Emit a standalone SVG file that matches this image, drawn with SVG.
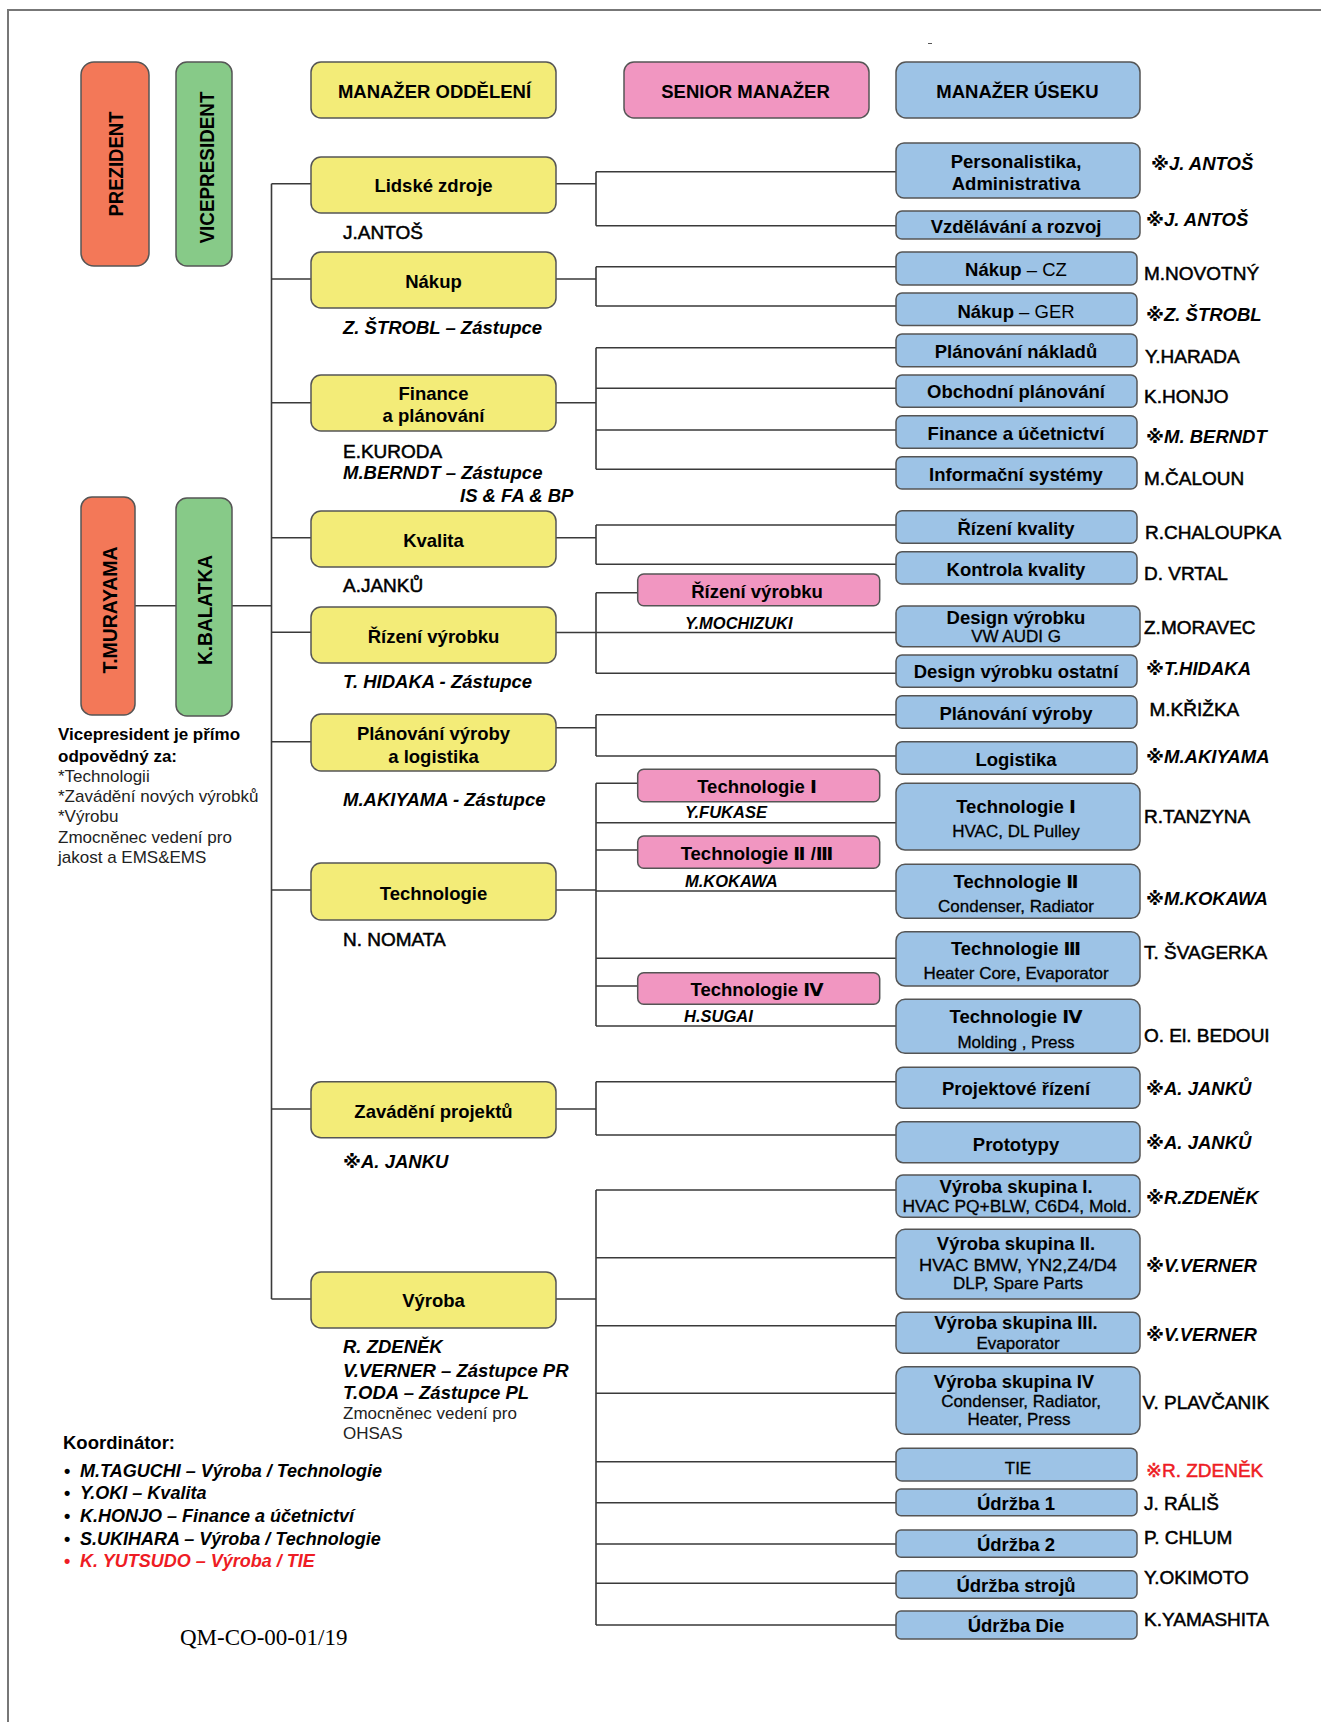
<svg xmlns="http://www.w3.org/2000/svg" width="1321" height="1722" viewBox="0 0 1321 1722">
<style>
.bx{stroke:#555;stroke-width:1.5}
.yl{fill:#F3EC78}
.bl{fill:#9DC3E6}
.pk{fill:#F196C1}
.or{fill:#F37858}
.gr{fill:#87CA88}
.ln{stroke:#3a3a3a;stroke-width:1.6;fill:none}
text{font-family:"Liberation Sans",Arial,"DejaVu Sans","Noto Sans CJK JP",sans-serif;fill:#000}
.lb{font-size:18.5px;font-weight:bold;text-anchor:middle}
.sb{font-size:17px;text-anchor:middle;stroke:#000;stroke-width:0.3}
.nm{font-size:19px;stroke:#000;stroke-width:0.5}
.bi{font-size:18.5px;font-weight:bold;font-style:italic}
.pn{font-size:16.5px;font-weight:bold;font-style:italic}
.rg{font-size:17px;fill:#222}
.vt{font-size:21px;font-weight:bold;text-anchor:middle}
.red{fill:#EE1C24;stroke:#EE1C24}
</style>
<path d="M8,1722 V10 H1321" fill="none" stroke="#777" stroke-width="2"/>
<line x1="928" y1="43.5" x2="932" y2="43.5" stroke="#555" stroke-width="1"/>

<g id="connectors" class="ln">
<path d="M271.5,183.7 V1299"/>
<path d="M135,605.7 H176 M232,605.7 H271.5"/>
<path d="M271.5,183.7 H311 M271.5,279 H311 M271.5,402.7 H311 M271.5,537.7 H311 M271.5,632.3 H311 M271.5,741.7 H311 M271.5,890 H311 M271.5,1109 H311 M271.5,1299 H311"/>
<path d="M556,183.7 H596 M596,171.7 V225.7 M596,171.7 H896 M596,225.7 H896"/>
<path d="M556,279 H596 M596,266.7 V306 M596,266.7 H896 M596,306 H896"/>
<path d="M556,402.7 H596 M596,347.7 V469.3 M596,347.7 H896 M596,388.3 H896 M596,430 H896 M596,469.3 H896"/>
<path d="M556,537.7 H596 M596,525 V564.3 M596,525 H896 M596,564.3 H896"/>
<path d="M556,632.5 H896 M596,592.7 V673.3 M596,592.7 H637.7 M596,673.3 H896"/>
<path d="M556,727.7 H596 M596,714.7 V756 M596,714.7 H896 M596,756 H896"/>
<path d="M556,890 H596 M596,783.3 V1026 M596,783.3 H637.7 M596,822.7 H896 M596,850 H637.7 M596,891 H896 M596,958.3 H896 M596,986 H637.7 M596,1026 H896"/>
<path d="M556,1109 H596 M596,1081.7 V1135 M596,1081.7 H896 M596,1135 H896"/>
<path d="M556,1299 H596 M596,1190 V1625 M596,1190 H896 M596,1257.7 H896 M596,1325.7 H896 M596,1393.3 H896 M596,1461.7 H896 M596,1502.7 H896 M596,1544 H896 M596,1583.3 H896 M596,1625 H896"/>
</g>

<g id="prezident"><rect class="bx or" x="81" y="62" width="68" height="204" rx="13"/><text class="vt" transform="translate(115.7,164) rotate(-90)" y="7.5" textLength="105" lengthAdjust="spacingAndGlyphs">PREZIDENT</text></g>
<g id="vicepresident"><rect class="bx gr" x="176" y="62" width="56" height="204" rx="11"/><text class="vt" transform="translate(206,167.5) rotate(-90)" y="7.5" textLength="152" lengthAdjust="spacingAndGlyphs">VICEPRESIDENT</text></g>
<g id="h-manazer-oddeleni"><rect class="bx yl" x="311" y="62" width="245" height="56" rx="10"/><text class="lb" x="434.5" y="97.5">MANAŽER ODDĚLENÍ</text></g>
<g id="h-senior-manazer"><rect class="bx pk" x="624" y="62" width="245" height="56" rx="10"/><text class="lb" x="745.5" y="97.5">SENIOR MANAŽER</text></g>
<g id="h-manazer-useku"><rect class="bx bl" x="896" y="62" width="244" height="56" rx="10"/><text class="lb" x="1017.5" y="97.5">MANAŽER ÚSEKU</text></g>

<g id="murayama"><rect class="bx or" x="81" y="497" width="54" height="218" rx="11"/><text class="vt" transform="translate(109.5,610) rotate(-90)" y="7.5" textLength="127" lengthAdjust="spacingAndGlyphs">T.MURAYAMA</text></g>
<g id="balatka"><rect class="bx gr" x="176" y="498" width="56" height="218" rx="11"/><text class="vt" transform="translate(204,610) rotate(-90)" y="7.5" textLength="110" lengthAdjust="spacingAndGlyphs">K.BALATKA</text></g>

<g id="vp-note">
<text x="58" y="740.3" font-size="17" font-weight="bold">Vicepresident je přímo</text>
<text x="58" y="762" font-size="17" font-weight="bold">odpovědný za:</text>
<text class="rg" x="58" y="782">*Technologii</text>
<text class="rg" x="58" y="802">*Zavádění nových výrobků</text>
<text class="rg" x="58" y="822">*Výrobu</text>
<text class="rg" x="58" y="842.7">Zmocněnec vedení pro</text>
<text class="rg" x="58" y="862.7">jakost a EMS&amp;EMS</text>
</g>

<g id="d-lidske-zdroje"><rect class="bx yl" x="311" y="157" width="245" height="56" rx="10"/><text class="lb" x="433.5" y="191.5">Lidské zdroje</text><text class="nm" x="343" y="238.5">J.ANTOŠ</text></g>
<g id="d-nakup"><rect class="bx yl" x="311" y="252" width="245" height="56" rx="10"/><text class="lb" x="433.5" y="287.5">Nákup</text><text class="bi" x="343" y="334.2">Z. ŠTROBL – Zástupce</text></g>
<g id="d-finance"><rect class="bx yl" x="311" y="375" width="245" height="56" rx="10"/><text class="lb" x="433.5" y="399.8">Finance</text><text class="lb" x="433.5" y="421.5">a plánování</text><text class="nm" x="343" y="457.8">E.KURODA</text><text class="bi" x="343" y="479.2">M.BERNDT – Zástupce</text><text class="bi" x="460" y="501.5">IS &amp; FA &amp; BP</text></g>
<g id="d-kvalita"><rect class="bx yl" x="311" y="511" width="245" height="56" rx="10"/><text class="lb" x="433.5" y="546.5">Kvalita</text><text class="nm" x="343" y="591.8">A.JANKŮ</text></g>
<g id="d-rizeni-vyrobku"><rect class="bx yl" x="311" y="607" width="245" height="56" rx="10"/><text class="lb" x="433.5" y="642.5">Řízení výrobku</text><text class="bi" x="343" y="688.2">T. HIDAKA - Zástupce</text></g>
<g id="d-planovani"><rect class="bx yl" x="311" y="714" width="245" height="57" rx="10"/><text class="lb" x="433.5" y="739.8">Plánování výroby</text><text class="lb" x="433.5" y="762.5">a logistika</text><text class="bi" x="343" y="805.5">M.AKIYAMA - Zástupce</text></g>
<g id="d-technologie"><rect class="bx yl" x="311" y="863" width="245" height="57" rx="10"/><text class="lb" x="433.5" y="899.8">Technologie</text><text class="nm" x="343" y="946">N. NOMATA</text></g>
<g id="d-zavadeni"><rect class="bx yl" x="311" y="1081.7" width="245" height="56" rx="10"/><text class="lb" x="433.5" y="1117.5">Zavádění projektů</text><text class="bi" x="343" y="1167.5">※A. JANKU</text></g>
<g id="d-vyroba"><rect class="bx yl" x="311" y="1272" width="245" height="56" rx="10"/><text class="lb" x="433.5" y="1307.2">Výroba</text>
<text class="bi" x="343" y="1353.2">R. ZDENĚK</text><text class="bi" x="343" y="1377.2">V.VERNER – Zástupce PR</text><text class="bi" x="343" y="1398.8">T.ODA – Zástupce PL</text><text class="rg" x="343" y="1419.3">Zmocněnec vedení pro</text><text class="rg" x="343" y="1438.7">OHSAS</text></g>

<g id="s-rizeni-vyrobku"><rect class="bx pk" x="637.7" y="574" width="242" height="31.7" rx="6"/><text class="lb" x="757" y="597.5">Řízení výrobku</text><text class="pn" x="685" y="629.1">Y.MOCHIZUKI</text></g>
<g id="s-tech1"><rect class="bx pk" x="637.7" y="769.3" width="242" height="32.4" rx="6"/><text class="lb" x="757" y="793.2">Technologie  Ⅰ</text><text class="pn" x="685" y="817.5">Y.FUKASE</text></g>
<g id="s-tech23"><rect class="bx pk" x="637.7" y="836" width="242" height="32.3" rx="6"/><text class="lb" x="757" y="859.8">Technologie Ⅱ /Ⅲ</text><text class="pn" x="685" y="886.8">M.KOKAWA</text></g>
<g id="s-tech4"><rect class="bx pk" x="637.7" y="972.7" width="242" height="31.6" rx="6"/><text class="lb" x="757" y="995.8">Technologie Ⅳ</text><text class="pn" x="684" y="1021.8">H.SUGAI</text></g>

<g id="u-personalistika"><rect class="bx bl" x="896" y="143" width="244" height="55" rx="8"/><text class="lb" x="1016" y="167.5">Personalistika,</text><text class="lb" x="1016" y="189.8">Administrativa</text><text class="bi" x="1151" y="169.5">※J. ANTOŠ</text></g>
<g id="u-vzdelavani"><rect class="bx bl" x="896" y="211" width="244" height="28" rx="6"/><text class="lb" x="1016" y="232.5">Vzdělávání a rozvoj</text><text class="bi" x="1146" y="225.5">※J. ANTOŠ</text></g>
<g id="u-nakup-cz"><rect class="bx bl" x="896" y="252" width="241" height="33" rx="6"/><text class="lb" x="1016" y="275.8">Nákup <tspan font-weight="normal">– CZ</tspan></text><text class="nm" x="1144" y="279.5">M.NOVOTNÝ</text></g>
<g id="u-nakup-ger"><rect class="bx bl" x="896" y="293" width="241" height="32.5" rx="6"/><text class="lb" x="1016" y="318.2">Nákup <tspan font-weight="normal">– GER</tspan></text><text class="bi" x="1146" y="320.8">※Z. ŠTROBL</text></g>
<g id="u-planovani-nakladu"><rect class="bx bl" x="896" y="334" width="241" height="32.7" rx="6"/><text class="lb" x="1016" y="358.2">Plánování nákladů</text><text class="nm" x="1145" y="362.8">Y.HARADA</text></g>
<g id="u-obchodni"><rect class="bx bl" x="896" y="375" width="241" height="32.3" rx="6"/><text class="lb" x="1016" y="398.2">Obchodní plánování</text><text class="nm" x="1144" y="402.5">K.HONJO</text></g>
<g id="u-finance-ucetnictvi"><rect class="bx bl" x="896" y="415.7" width="241" height="32.6" rx="6"/><text class="lb" x="1016" y="439.8">Finance a účetnictví</text><text class="bi" x="1146" y="443.2">※M. BERNDT</text></g>
<g id="u-is"><rect class="bx bl" x="896" y="456.7" width="241" height="32.3" rx="6"/><text class="lb" x="1016" y="480.8">Informační systémy</text><text class="nm" x="1144" y="484.5">M.ČALOUN</text></g>
<g id="u-rizeni-kvality"><rect class="bx bl" x="896" y="510.7" width="241" height="32.6" rx="6"/><text class="lb" x="1016" y="534.8">Řízení kvality</text><text class="nm" x="1145" y="538.5">R.CHALOUPKA</text></g>
<g id="u-kontrola-kvality"><rect class="bx bl" x="896" y="551.7" width="241" height="32.3" rx="6"/><text class="lb" x="1016" y="575.8">Kontrola kvality</text><text class="nm" x="1144" y="580">D. VRTAL</text></g>
<g id="u-design-vw"><rect class="bx bl" x="896" y="606" width="244" height="40.7" rx="7"/><text class="lb" x="1016" y="624.2">Design výrobku</text><text class="sb" x="1016" y="642">VW AUDI G</text><text class="nm" x="1144" y="633.5">Z.MORAVEC</text></g>
<g id="u-design-ostatni"><rect class="bx bl" x="896" y="655" width="241" height="32.3" rx="6"/><text class="lb" x="1016" y="678.2">Design výrobku ostatní</text><text class="bi" x="1146" y="674.8">※T.HIDAKA</text></g>
<g id="u-planovani-vyroby"><rect class="bx bl" x="896" y="695.7" width="241" height="32.6" rx="6"/><text class="lb" x="1016" y="719.8">Plánování výroby</text><text class="nm" x="1149.5" y="716">M.KŘIŽKA</text></g>
<g id="u-logistika"><rect class="bx bl" x="896" y="741.7" width="241" height="32.6" rx="6"/><text class="lb" x="1016" y="765.8">Logistika</text><text class="bi" x="1146" y="763.2">※M.AKIYAMA</text></g>
<g id="u-tech1"><rect class="bx bl" x="896" y="783.3" width="244" height="66.7" rx="9"/><text class="lb" x="1016" y="813.2">Technologie Ⅰ</text><text class="sb" x="1016" y="836.7">HVAC, DL Pulley</text><text class="nm" x="1144" y="822.8">R.TANZYNA</text></g>
<g id="u-tech2"><rect class="bx bl" x="896" y="864.3" width="244" height="54" rx="9"/><text class="lb" x="1016" y="887.5">Technologie Ⅱ</text><text class="sb" x="1016" y="911.7">Condenser, Radiator</text><text class="bi" x="1146" y="904.8">※M.KOKAWA</text></g>
<g id="u-tech3"><rect class="bx bl" x="896" y="931.7" width="244" height="54.3" rx="9"/><text class="lb" x="1016" y="954.8">Technologie Ⅲ</text><text class="sb" x="1016" y="979.3">Heater Core, Evaporator</text><text class="nm" x="1144" y="958.5">T. ŠVAGERKA</text></g>
<g id="u-tech4"><rect class="bx bl" x="896" y="999.3" width="244" height="54" rx="9"/><text class="lb" x="1016" y="1023.2">Technologie Ⅳ</text><text class="sb" x="1016" y="1047.7">Molding , Press</text><text class="nm" x="1144" y="1041.8">O. El. BEDOUI</text></g>
<g id="u-projektove"><rect class="bx bl" x="896" y="1067.3" width="244" height="41" rx="7"/><text class="lb" x="1016" y="1094.8">Projektové řízení</text><text class="bi" x="1146" y="1094.5">※A. JANKŮ</text></g>
<g id="u-prototypy"><rect class="bx bl" x="896" y="1121.7" width="244" height="41" rx="7"/><text class="lb" x="1016" y="1150.5">Prototypy</text><text class="bi" x="1146" y="1148.8">※A. JANKŮ</text></g>
<g id="u-vyroba1"><rect class="bx bl" x="896" y="1175" width="244" height="42.3" rx="7"/><text class="lb" x="1016" y="1192.8" font-size="17.5">Výroba skupina I.</text><text class="sb" x="1017" y="1211.8" font-size="16.5" textLength="229" lengthAdjust="spacingAndGlyphs">HVAC  PQ+BLW, C6D4,  Mold.</text><text class="bi" x="1146" y="1203.8">※R.ZDENĚK</text></g>
<g id="u-vyroba2"><rect class="bx bl" x="896" y="1229.3" width="244" height="69.7" rx="9"/><text class="lb" x="1016" y="1250.1" font-size="17.5">Výroba skupina II.</text><text class="sb" x="1018" y="1270.8" textLength="198" lengthAdjust="spacingAndGlyphs">HVAC   BMW, YN2,Z4/D4</text><text class="sb" x="1018" y="1289.1">DLP, Spare Parts</text><text class="bi" x="1146" y="1272.2">※V.VERNER</text></g>
<g id="u-vyroba3"><rect class="bx bl" x="896" y="1312.3" width="244" height="41" rx="7"/><text class="lb" x="1016" y="1328.8" font-size="17.5">Výroba skupina III.</text><text class="sb" x="1018" y="1348.5">Evaporator</text><text class="bi" x="1146" y="1340.5">※V.VERNER</text></g>
<g id="u-vyroba4"><rect class="bx bl" x="896" y="1366.7" width="244" height="67.6" rx="9"/><text class="lb" x="1014" y="1387.8" font-size="17.5">Výroba skupina IV</text><text class="sb" x="1021" y="1406.5">Condenser, Radiator,</text><text class="sb" x="1019" y="1425.1">Heater, Press</text><text class="nm" x="1142.5" y="1408.5">V. PLAVČANIK</text></g>
<g id="u-tie"><rect class="bx bl" x="896" y="1448.3" width="241" height="32.7" rx="6"/><text class="sb" x="1018" y="1474.3">TIE</text><text class="nm red" x="1146" y="1476.8">※R. ZDENĚK</text></g>
<g id="u-udrzba1"><rect class="bx bl" x="896" y="1489" width="241" height="26.7" rx="5"/><text class="lb" x="1016" y="1509.8">Údržba 1</text><text class="nm" x="1144" y="1509.5">J. RÁLIŠ</text></g>
<g id="u-udrzba2"><rect class="bx bl" x="896" y="1530" width="241" height="27.3" rx="5"/><text class="lb" x="1016" y="1550.8">Údržba 2</text><text class="nm" x="1144" y="1543.5">P. CHLUM</text></g>
<g id="u-udrzba-stroju"><rect class="bx bl" x="896" y="1570.7" width="241" height="27.6" rx="5"/><text class="lb" x="1016" y="1591.5">Údržba strojů</text><text class="nm" x="1144" y="1584">Y.OKIMOTO</text></g>
<g id="u-udrzba-die"><rect class="bx bl" x="896" y="1611" width="241" height="28" rx="5"/><text class="lb" x="1016" y="1632.2">Údržba Die</text><text class="nm" x="1144" y="1625.8">K.YAMASHITA</text></g>

<g id="koordinator">
<text x="63" y="1448.8" font-size="18.5" font-weight="bold">Koordinátor:</text>
<g font-size="18" font-weight="bold">
<text x="64" y="1476.8">•</text><text x="80" y="1476.8" font-style="italic">M.TAGUCHI – Výroba / Technologie</text>
<text x="64" y="1498.8">•</text><text x="80" y="1498.8" font-style="italic">Y.OKI – Kvalita</text>
<text x="64" y="1522.2">•</text><text x="80" y="1522.2" font-style="italic">K.HONJO – Finance a účetnictví</text>
<text x="64" y="1544.8">•</text><text x="80" y="1544.8" font-style="italic">S.UKIHARA – Výroba / Technologie</text>
<text x="64" y="1567.2" style="fill:#EE1C24">•</text><text x="80" y="1567.2" font-style="italic" style="fill:#EE1C24">K. YUTSUDO – Výroba / TIE</text>
</g>
</g>
<text x="180" y="1644.7" style="font-family:'Liberation Serif','Times New Roman',serif;font-size:23px">QM-CO-00-01/19</text>
</svg>
